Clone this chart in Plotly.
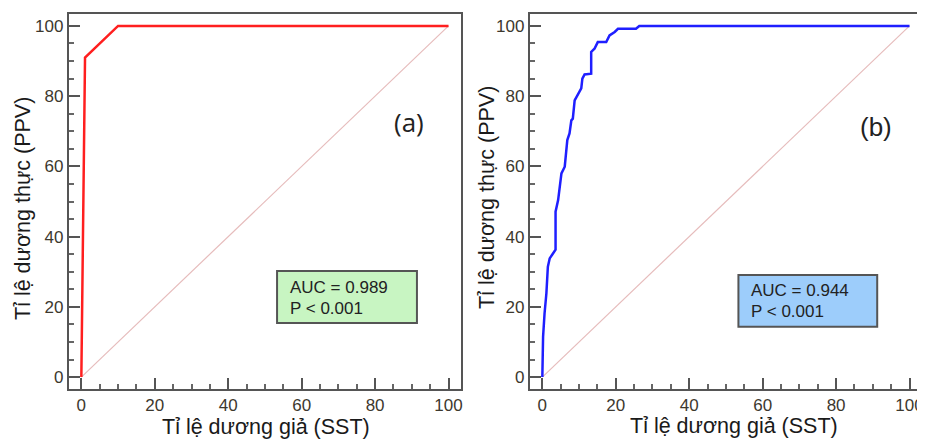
"""
ROC curves (a) and (b) side by side
"""

import plotly.graph_objects as go


# =====================================================
# DATA
# =====================================================

fpr_a = [0, 1, 10, 100]
tpr_a = [0, 91, 100, 100]

fpr_b = [0, 0.2, 0.6, 1.1, 1.5, 2.0, 2.9, 3.6, 3.6, 4.3, 5.2, 6.1, 6.8, 7.4,
         7.9, 8.3, 8.8, 9.7, 10.6, 10.9, 11.5, 13.3, 13.3, 14.2, 15.1, 17.4,
         18.3, 19.7, 20.6, 25.5, 26.4, 100]
tpr_b = [0, 11.5, 18.1, 23.8, 31.4, 33.8, 35.2, 36.3, 47.1, 50.4, 58.0, 59.9,
         67.5, 69.4, 73.1, 73.6, 78.8, 80.7, 82.2, 85.0, 86.2, 86.4, 92.6, 93.5,
         95.4, 95.4, 97.3, 98.3, 99.2, 99.2, 100, 100]

ref_line = [0, 100]

auc_a = "AUC = 0.989"
auc_b = "AUC = 0.944"
p_text = "P < 0.001"

x_title = "Tỉ lệ dương giả (SST)"
y_title = "Tỉ lệ dương thực (PPV)"

tick_vals = [0, 20, 40, 60, 80, 100]


# =====================================================
# FIGURE
# =====================================================

# the page body has an 8px margin, so the figure is shifted by it
OFF = 8
W, H = 925 - OFF, 439 - OFF


def px_x(p):
    return (p - OFF) / W


def px_y(p):
    return 1 - (p - OFF) / H


fig = go.Figure()

fig.add_trace(go.Scatter(x=ref_line, y=ref_line, mode="lines",
                         line=dict(color="#e6bcbc", width=1.2),
                         xaxis="x", yaxis="y", hoverinfo="skip"))
fig.add_trace(go.Scatter(x=fpr_a, y=tpr_a, mode="lines",
                         line=dict(color="#ff1f1f", width=2.5),
                         xaxis="x", yaxis="y"))

fig.add_trace(go.Scatter(x=ref_line, y=ref_line, mode="lines",
                         line=dict(color="#e6bcbc", width=1.2),
                         xaxis="x2", yaxis="y2", hoverinfo="skip"))
fig.add_trace(go.Scatter(x=fpr_b, y=tpr_b, mode="lines",
                         line=dict(color="#1f1fff", width=2.5),
                         xaxis="x2", yaxis="y2"))


def axis_style(domain, anchor):
    return dict(
        domain=domain,
        anchor=anchor,
        range=[-3.4, 103.4],
        tickvals=tick_vals,
        ticks="inside",
        ticklen=11,
        tickwidth=2,
        tickcolor="#555555",
        minor=dict(ticks="inside", dtick=5, ticklen=5, tickwidth=1.5,
                   tickcolor="#666666"),
        showline=True,
        mirror=True,
        linecolor="#555555",
        linewidth=2,
        showgrid=False,
        zeroline=False,
        tickfont=dict(family="Liberation Sans", size=17, color="#3d382e"),
    )


fig.update_layout(
    width=W,
    height=H,
    margin=dict(l=0, r=0, t=0, b=0),
    paper_bgcolor="white",
    plot_bgcolor="white",
    showlegend=False,
    xaxis=axis_style([px_x(69), px_x(462)], "y"),
    yaxis=axis_style([px_y(389), px_y(14)], "x"),
    xaxis2=axis_style([px_x(531), min(px_x(924), 1)], "y2"),
    yaxis2=axis_style([px_y(389), px_y(14)], "x2"),
)

# stat boxes
fig.add_shape(type="rect", xref="x", yref="y", x0=53.3, x1=91.4, y0=15.4, y1=30.2,
              fillcolor="#c8f5c2", line=dict(color="#555555", width=2), layer="above")
fig.add_shape(type="rect", xref="x2", yref="y2", x0=53.4, x1=91.2, y0=14.3, y1=29.1,
              fillcolor="#9dcdfb", line=dict(color="#555555", width=2), layer="above")

box_font = dict(family="Liberation Sans", size=17, color="#222222")

for xr, yr, auc, y1, y2 in [("x", "y", auc_a, 25.4, 19.6), ("x2", "y2", auc_b, 24.6, 18.8)]:
    fig.add_annotation(x=56.4, y=y1, xref=xr, yref=yr, text=auc, showarrow=False,
                       xanchor="left", yanchor="middle", font=box_font)
    fig.add_annotation(x=56.4, y=y2, xref=xr, yref=yr, text=p_text, showarrow=False,
                       xanchor="left", yanchor="middle", font=box_font)

# panel labels
fig.add_annotation(x=89.2, y=72.6, xref="x", yref="y", text="(a)", showarrow=False,
                   xanchor="center", yanchor="middle",
                   font=dict(family="Open Sans", size=26, color="#222222"))
fig.add_annotation(x=90.8, y=71.3, xref="x2", yref="y2", text="(b)", showarrow=False,
                   xanchor="center", yanchor="middle",
                   font=dict(family="Liberation Sans", size=26, color="#222222"))

# axis titles
title_font = dict(family="Liberation Sans", size=21.5, color="#1a1a1a")
for xp, yp, txt, ang in [(267, 427, x_title, 0), (736, 426, x_title, 0),
                         (23, 208, y_title, -90), (488, 197, y_title, -90)]:
    fig.add_annotation(x=px_x(xp), y=px_y(yp), xref="paper", yref="paper", text=txt,
                       textangle=ang, showarrow=False, xanchor="center",
                       yanchor="middle", font=title_font)

fig.write_html("out.html")
